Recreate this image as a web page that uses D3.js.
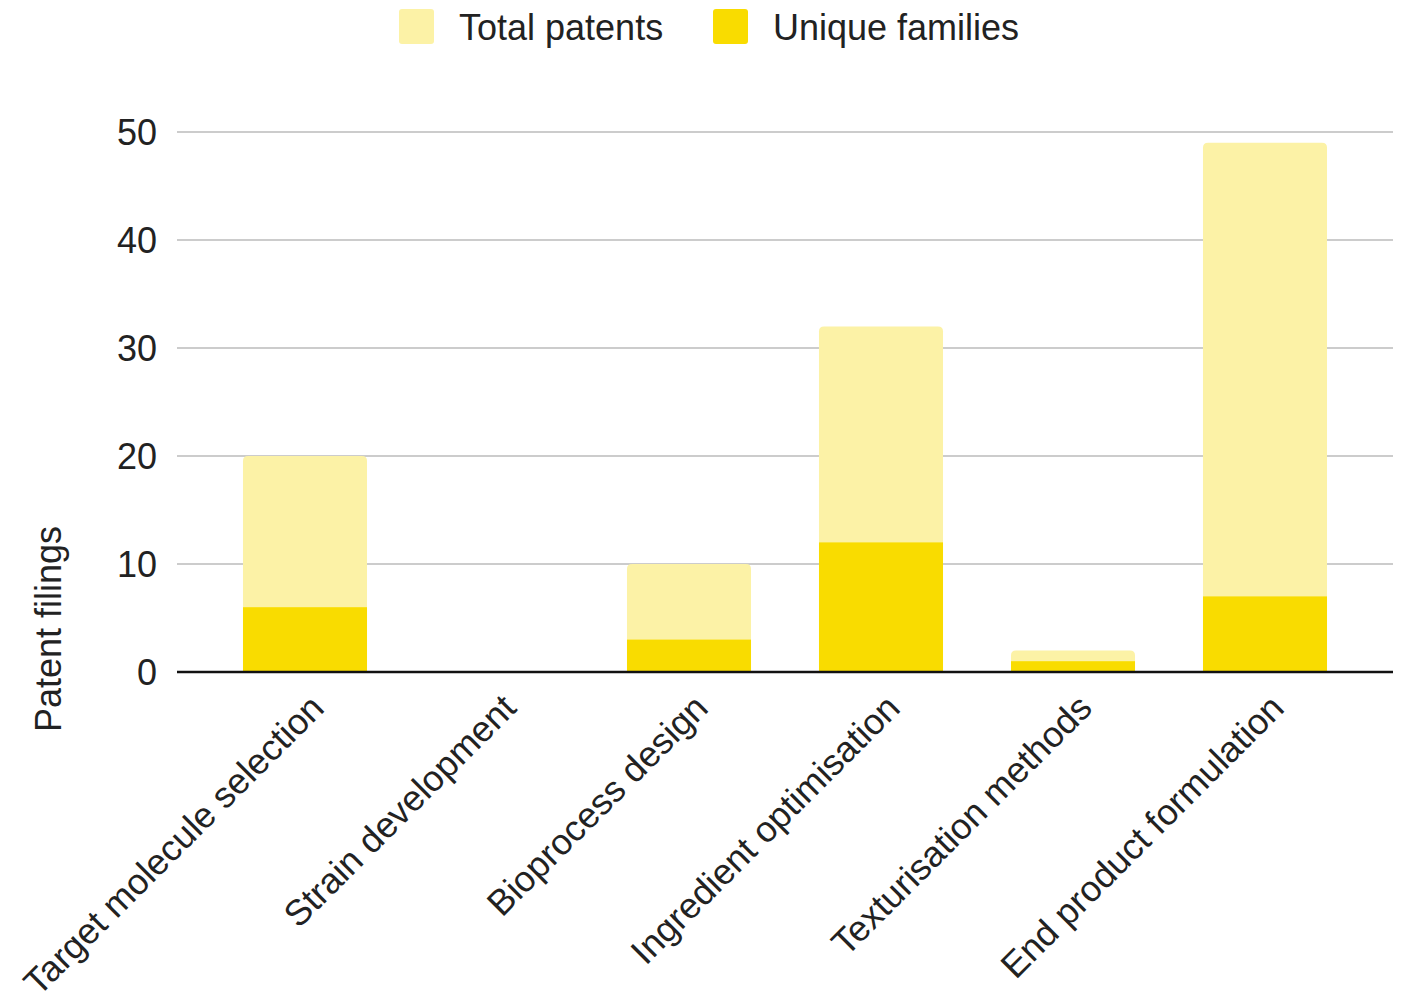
<!DOCTYPE html>
<html><head><meta charset="utf-8">
<script src="https://cdn.jsdelivr.net/npm/d3@7"></script>
<style>body{margin:0;background:#fff;} svg{display:block;font-family:"Liberation Sans",Arial,sans-serif;}</style>
</head><body>
<svg id="c" width="1407" height="1001"></svg>
<script>
const categories = ["Target molecule selection","Strain development","Bioprocess design","Ingredient optimisation","Texturisation methods","End product formulation"];
const totalPatents = [20, 0, 10, 32, 2, 49];
const uniqueFamilies = [6, 0, 3, 12, 1, 7];
const yTicks = [0, 10, 20, 30, 40, 50];
const seriesNames = ["Total patents", "Unique families"];
const colors = ["#FCF2A6", "#F9DC00"];

const svg = d3.select("#c");
const gridLeft = 177, gridRight = 1393;
const x = d3.scaleBand().domain(categories).range([209, 1361]).paddingInner(0.354).paddingOuter(0.177);
const y = d3.scaleLinear().domain([0, 50]).range([672, 132]);

// gridlines
svg.append("g").selectAll("line").data(yTicks.filter(d => d !== 0)).join("line")
  .attr("x1", gridLeft).attr("x2", gridRight)
  .attr("y1", d => y(d)).attr("y2", d => y(d))
  .attr("stroke", "#cccccc").attr("stroke-width", 2);

// y tick labels
svg.append("g").selectAll("text").data(yTicks).join("text")
  .attr("x", 157).attr("y", d => y(d)).attr("dy", "0.36em")
  .attr("text-anchor", "end").attr("font-size", 36).attr("fill", "#222")
  .text(d => d);

function roundTop(x0, y0, w, h, r) {
  if (h <= 0) return "";
  r = Math.min(r, h, w / 2);
  return `M${x0},${y0 + h}V${y0 + r}Q${x0},${y0} ${x0 + r},${y0}H${x0 + w - r}Q${x0 + w},${y0} ${x0 + w},${y0 + r}V${y0 + h}Z`;
}

// total bars
svg.append("g").selectAll("path").data(categories).join("path")
  .attr("d", (c, i) => roundTop(x(c), y(totalPatents[i]), x.bandwidth(), y(0) - y(totalPatents[i]), 5))
  .attr("fill", colors[0]);

// unique bars
svg.append("g").selectAll("rect").data(categories).join("rect")
  .attr("x", c => x(c)).attr("width", x.bandwidth())
  .attr("y", (c, i) => y(uniqueFamilies[i]))
  .attr("height", (c, i) => y(0) - y(uniqueFamilies[i]))
  .attr("fill", colors[1]);

// baseline
svg.append("line").attr("x1", gridLeft).attr("x2", gridRight)
  .attr("y1", y(0)).attr("y2", y(0)).attr("stroke", "#111").attr("stroke-width", 2.5);

// x labels
svg.append("g").selectAll("text").data(categories).join("text")
  .attr("transform", c => `translate(${x(c) + x.bandwidth() / 2 + 21},${y(0) + 38}) rotate(-45)`)
  .attr("text-anchor", "end").attr("font-size", 36).attr("fill", "#222")
  .text(c => c);

// y axis title
svg.append("text")
  .attr("transform", `translate(61,629) rotate(-90)`)
  .attr("text-anchor", "middle").attr("font-size", 36).attr("fill", "#222")
  .text("Patent filings");

// legend
const legendX = [399, 713];
const lg = svg.append("g");
seriesNames.forEach((n, i) => {
  lg.append("rect").attr("x", legendX[i]).attr("y", 9).attr("width", 35).attr("height", 35)
    .attr("rx", 3).attr("fill", colors[i]);
  lg.append("text").attr("x", legendX[i] + 60).attr("y", 27).attr("dy", "0.36em")
    .attr("font-size", 36).attr("fill", "#222").text(n);
});
</script>
</body></html>
